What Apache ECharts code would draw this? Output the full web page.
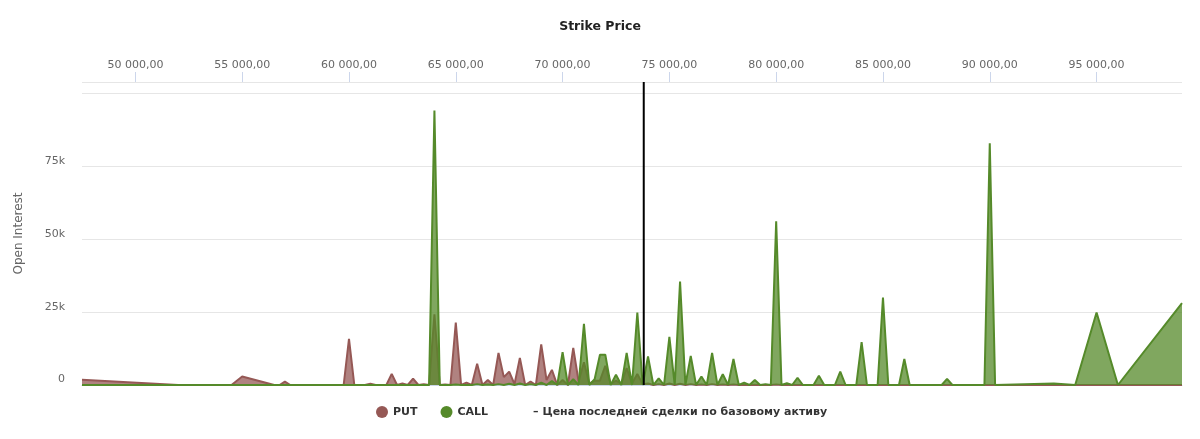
<!DOCTYPE html>
<html>
<head>
<meta charset="utf-8">
<script src="https://cdn.jsdelivr.net/npm/echarts@6/dist/echarts.min.js"></script>
<style>
html,body{margin:0;padding:0;background:#fff;}
#chart{width:1200px;height:439px;}
</style>
</head>
<body>
<div id="chart"></div>
<script>
// Strike prices (x values)
const strikes = [
  47500, 52000, 54500, 55000, 56500, 56750, 57000, 57250, 59750, 60000,
  60250, 60750, 61000, 61250, 61750, 62000, 62250, 62500, 62750, 63000,
  63250, 63500, 63750, 64000, 64250, 64500, 64750, 65000, 65250, 65500,
  65750, 66000, 66250, 66500, 66750, 67000, 67250, 67500, 67750, 68000,
  68250, 68500, 68750, 69000, 69250, 69500, 69750, 70000, 70250, 70500,
  70750, 71000, 71250, 71500, 71750, 72000, 72250, 72500, 72750, 73000,
  73250, 73500, 73750, 74000, 74250, 74500, 74750, 75000, 75250, 75500,
  75750, 76000, 76250, 76500, 76750, 77000, 77250, 77500, 77750, 78000,
  78250, 78500, 78750, 79000, 79250, 79500, 79750, 80000, 80250, 80500,
  80750, 81000, 81250, 81750, 82000, 82250, 82750, 83000, 83250, 83750,
  84000, 84250, 84750, 85000, 85250, 85750, 86000, 86250, 87750, 88000,
  88250, 89750, 90000, 90250, 93000, 94000, 95000, 96000, 99000
];
// PUT open interest
const putOI = [
  1800, 0, 0, 2900, 0, 0, 1150, 0, 0, 15800,
  0, 0, 400, 0, 0, 3800, 0, 500, 0, 2200,
  0, 300, 0, 24300, 0, 200, 0, 21400, 0, 800,
  0, 7300, 0, 1700, 0, 11000, 2700, 4600, 300, 9300,
  0, 1200, 0, 13900, 1700, 5200, 0, 1700, 0, 12700,
  1200, 7800, 500, 1500, 1500, 6600, 500, 1500, 500, 5800,
  500, 3800, 300, 500, 0, 300, 0, 500, 0, 400,
  0, 300, 0, 200, 0, 300, 0, 200, 0, 200,
  0, 100, 0, 100, 0, 0, 0, 200, 0, 0,
  0, 0, 0, 0, 0, 0, 0, 0, 0, 0,
  0, 0, 0, 0, 0, 0, 0, 0, 0, 0,
  0, 0, 0, 0, 0, 0, 0, 0, 0
];
// CALL open interest
const callOI = [
  0, 0, 0, 0, 0, 0, 0, 0, 0, 0,
  0, 0, 0, 0, 0, 0, 0, 0, 0, 0,
  0, 0, 0, 94200, 0, 0, 0, 200, 0, 0,
  0, 300, 0, 200, 0, 300, 0, 400, 0, 500,
  0, 300, 0, 800, 0, 1400, 0, 11300, 0, 2000,
  0, 21000, 0, 2000, 10400, 10400, 0, 3500, 0, 11000,
  0, 24900, 0, 9800, 0, 2300, 0, 16500, 0, 35500,
  0, 10000, 0, 2900, 0, 11000, 0, 3700, 0, 8900,
  0, 800, 0, 1700, 0, 300, 0, 56200, 0, 600,
  0, 2500, 0, 0, 3200, 0, 0, 4600, 0, 0,
  14700, 0, 0, 30000, 0, 0, 8900, 0, 0, 2100,
  0, 0, 83000, 0, 500, 0, 24900, 0, 28100
];
// Last trade price of the underlying asset
const lastPrice = 73800;
const xTicks = [50000, 55000, 60000, 65000, 70000, 75000, 80000, 85000, 90000, 95000];

const LINE_NAME = 'Цена последней сделки по базовому активу';

function fmtStrike(v) {
  return Math.round(v).toString().replace(/\B(?=(\d{3})+(?!\d))/g, ' ') + ',00';
}

const chart = echarts.init(document.getElementById('chart'), null, {renderer: 'canvas'});
chart.setOption({
  animation: false,
  backgroundColor: '#ffffff',
  title: {
    text: 'Strike Price',
    left: 'center',
    top: 15,
    textStyle: {fontFamily: 'DejaVu Sans', fontSize: 12.5, fontWeight: 'bold', color: '#222222'}
  },
  grid: [
    {left: 82, right: 18, top: 82, bottom: 54, containLabel: false},
    // thin strip right above the plot, used only for the upward tick marks
    {left: 82, right: 18, top: 40, bottom: 357, containLabel: false}
  ],
  legend: {
    left: 371,
    top: 401,
    itemWidth: 12,
    itemHeight: 12,
    itemGap: 23,
    textStyle: {fontFamily: 'DejaVu Sans', fontSize: 11, fontWeight: 'bold', color: '#333333'},
    formatter: function (name) { return name === LINE_NAME ? '– ' + name : name; },
    data: [
      {name: 'PUT', icon: 'circle'},
      {name: 'CALL', icon: 'circle'},
      {name: LINE_NAME, icon: 'none', textStyle: {padding: [0, 0, 0, 5]}}
    ]
  },
  xAxis: [
    {
      type: 'value',
      gridIndex: 0,
      position: 'top',
      min: strikes[0],
      max: strikes[strikes.length - 1],
      axisLine: {show: true, lineStyle: {color: '#ccd6eb', width: 1}},
      axisTick: {show: false},
      axisLabel: {
        customValues: xTicks,
        margin: 11,
        color: '#666666',
        fontFamily: 'DejaVu Sans',
        fontSize: 11,
        formatter: fmtStrike
      },
      splitLine: {show: false}
    },
    {
      type: 'value',
      gridIndex: 1,
      position: 'bottom',
      min: strikes[0],
      max: strikes[strikes.length - 1],
      axisLine: {show: false},
      axisTick: {show: true, inside: true, length: 10, lineStyle: {color: '#ccd6eb', width: 1}, customValues: xTicks},
      axisLabel: {show: false},
      splitLine: {show: false}
    }
  ],
  yAxis: [
    {
      type: 'value',
      gridIndex: 0,
      min: 0,
      max: 104000,
      interval: 25000,
      name: 'Open Interest',
      nameLocation: 'middle',
      nameGap: 57,
      nameRotate: 90,
      nameTextStyle: {fontFamily: 'DejaVu Sans', fontSize: 12, color: '#666666'},
      axisLine: {show: false},
      axisTick: {show: false},
      axisLabel: {
        color: '#666666',
        fontFamily: 'DejaVu Sans',
        fontSize: 11,
        margin: 17,
        verticalAlign: 'bottom',
        formatter: function (v) {
          if (v === 0) return '0';
          if (v >= 100000) return '';
          return (v / 1000) + 'k';
        }
      },
      splitLine: {show: true, lineStyle: {color: '#e6e6e6', width: 1}}
    },
    {
      type: 'value',
      gridIndex: 1,
      show: false,
      min: 0,
      max: 1
    }
  ],
  series: [
    {
      name: 'PUT',
      type: 'line',
      xAxisIndex: 0,
      yAxisIndex: 0,
      data: strikes.map((s, i) => [s, putOI[i]]),
      showSymbol: false,
      symbol: 'none',
      color: '#955855',
      lineStyle: {color: '#955855', width: 2},
      areaStyle: {color: '#955855', opacity: 0.75},
      z: 2
    },
    {
      name: 'CALL',
      type: 'line',
      xAxisIndex: 0,
      yAxisIndex: 0,
      data: strikes.map((s, i) => [s, callOI[i]]),
      showSymbol: false,
      symbol: 'none',
      color: '#558a2a',
      lineStyle: {color: '#558a2a', width: 2},
      areaStyle: {color: '#558a2a', opacity: 0.75},
      z: 3
    },
    {
      name: LINE_NAME,
      type: 'line',
      xAxisIndex: 0,
      yAxisIndex: 0,
      data: [[lastPrice, 0], [lastPrice, 104000]],
      showSymbol: false,
      symbol: 'none',
      color: '#000000',
      lineStyle: {color: '#000000', width: 2},
      z: 4
    }
  ]
});
</script>
</body>
</html>
